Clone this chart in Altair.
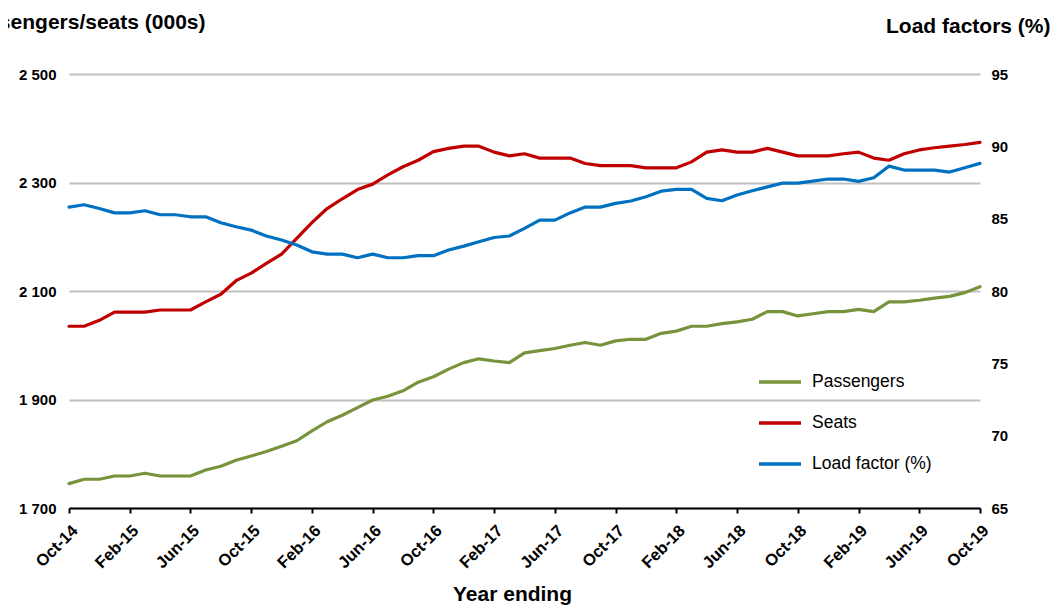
import altair as alt
import pandas as pd

months = [
    "Oct-14", "Nov-14", "Dec-14", "Jan-15", "Feb-15", "Mar-15", "Apr-15", "May-15", "Jun-15",
    "Jul-15", "Aug-15", "Sep-15", "Oct-15", "Nov-15", "Dec-15", "Jan-16", "Feb-16", "Mar-16",
    "Apr-16", "May-16", "Jun-16", "Jul-16", "Aug-16", "Sep-16", "Oct-16", "Nov-16", "Dec-16",
    "Jan-17", "Feb-17", "Mar-17", "Apr-17", "May-17", "Jun-17", "Jul-17", "Aug-17", "Sep-17",
    "Oct-17", "Nov-17", "Dec-17", "Jan-18", "Feb-18", "Mar-18", "Apr-18", "May-18", "Jun-18",
    "Jul-18", "Aug-18", "Sep-18", "Oct-18", "Nov-18", "Dec-18", "Jan-19", "Feb-19", "Mar-19",
    "Apr-19", "May-19", "Jun-19", "Jul-19", "Aug-19", "Sep-19", "Oct-19",
]

passengers = [
    1745, 1753, 1753, 1759, 1759, 1764, 1759, 1759, 1759,
    1770, 1777, 1788, 1796, 1804, 1814, 1824, 1842, 1859,
    1871, 1885, 1899, 1906, 1916, 1932, 1942, 1956, 1968,
    1975, 1971, 1968, 1986, 1990, 1994, 2000, 2005, 2000,
    2008, 2011, 2011, 2022, 2026, 2035, 2035, 2040, 2043,
    2048, 2062, 2062, 2054, 2058, 2062, 2062, 2066, 2062,
    2080, 2080, 2083, 2087, 2090, 2097, 2108,
]

seats = [
    2035, 2035, 2046, 2061, 2061, 2061, 2065, 2065, 2065,
    2080, 2094, 2119, 2133, 2151, 2168, 2197, 2226, 2252,
    2270, 2287, 2297, 2314, 2329, 2341, 2357, 2363, 2367,
    2367, 2356, 2349, 2353, 2345, 2345, 2345, 2335, 2331,
    2331, 2331, 2327, 2327, 2327, 2338, 2356, 2360, 2356,
    2356, 2363, 2356, 2349, 2349, 2349, 2353, 2356, 2345,
    2341, 2353, 2360, 2364, 2367, 2370, 2374,
]

load_factor = [
    85.8, 85.96, 85.7, 85.4, 85.4, 85.55, 85.27, 85.27, 85.13,
    85.13, 84.72, 84.44, 84.21, 83.8, 83.52, 83.18, 82.71, 82.55,
    82.55, 82.3, 82.55, 82.3, 82.3, 82.44, 82.44, 82.83, 83.1,
    83.4, 83.7, 83.8, 84.33, 84.9, 84.9, 85.4, 85.8, 85.8,
    86.06, 86.22, 86.52, 86.9, 87.02, 87.02, 86.4, 86.24, 86.63,
    86.93, 87.2, 87.46, 87.46, 87.6, 87.74, 87.74, 87.58, 87.83,
    88.63, 88.36, 88.36, 88.36, 88.22, 88.52, 88.82,
]

x_ticks = ["Oct-14", "Feb-15", "Jun-15", "Oct-15", "Feb-16", "Jun-16", "Oct-16", "Feb-17",
           "Jun-17", "Oct-17", "Feb-18", "Jun-18", "Oct-18", "Feb-19", "Jun-19", "Oct-19"]
left_ticks = [1700, 1900, 2100, 2300, 2500]
right_ticks = [65, 70, 75, 80, 85, 90, 95]

series_names = ["Passengers", "Seats", "Load factor (%)"]
series_colors = ["#77933C", "#C00000", "#0070C0"]

rows = []
for m, p, s, lf in zip(months, passengers, seats, load_factor):
    rows.append({"month": m, "series": "Passengers", "value": p})
    rows.append({"month": m, "series": "Seats", "value": s})
    rows.append({"month": m, "series": "Load factor (%)", "value": lf})
df = pd.DataFrame(rows)

FONT = "Liberation Sans"

x_enc = alt.X(
    "month:O",
    sort=months,
    scale=alt.Scale(type="point", padding=0),
    axis=alt.Axis(
        values=x_ticks,
        labelAngle=-45,
        labelFontSize=16.5,
        labelFontWeight="bold",
        labelColor="#000000",
        labelPadding=9,
        tickSize=5,
        tickWidth=2,
        tickColor="#000000",
        domainColor="#000000",
        domainWidth=2,
        grid=False,
        title="Year ending",
        titleFontSize=21,
        titleFontWeight="bold",
        titleColor="#000000",
        titleAnchor="start",
        titleAlign="center",
        titleBaseline="alphabetic",
        titleX=443,
        titleY=92,
    ),
)

color_enc = alt.Color(
    "series:N",
    scale=alt.Scale(domain=series_names, range=series_colors),
    legend=alt.Legend(
        title=None,
        orient="none",
        legendX=688,
        legendY=285,
        symbolType="stroke",
        symbolSize=1764,
        symbolStrokeWidth=3.5,
        labelFontSize=17.5,
        labelColor="#000000",
        labelOffset=9,
        rowPadding=9,
        padding=0,
    ),
)

left = (
    alt.Chart(df)
    .transform_filter(alt.FieldOneOfPredicate(field="series", oneOf=["Passengers", "Seats"]))
    .mark_line(strokeWidth=3.2, strokeJoin="round", strokeCap="round")
    .encode(
        x=x_enc,
        y=alt.Y(
            "value:Q",
            scale=alt.Scale(domain=[1700, 2500], nice=False, zero=False),
            axis=alt.Axis(
                values=left_ticks,
                labelExpr="replace(format(datum.value, ','), ',', ' ')",
                labelFontSize=15,
                labelFontWeight="bold",
                labelColor="#000000",
                labelPadding=13,
                ticks=False,
                domain=False,
                grid=True,
                gridColor="#C0C0C0",
                gridWidth=1.8,
                title="Passengers/seats (000s)",
                titleAngle=0,
                titleFontSize=21,
                titleFontWeight="bold",
                titleColor="#000000",
                titleAlign="right",
                titleBaseline="alphabetic",
                titleX=136,
                titleY=-46,
            ),
        ),
        color=color_enc,
        detail="series:N",
    )
)

right = (
    alt.Chart(df)
    .transform_filter(alt.FieldEqualPredicate(field="series", equal="Load factor (%)"))
    .mark_line(strokeWidth=3.2, strokeJoin="round", strokeCap="round")
    .encode(
        x=x_enc,
        y=alt.Y(
            "value:Q",
            scale=alt.Scale(domain=[65, 95], nice=False, zero=False),
            axis=alt.Axis(
                orient="right",
                values=right_ticks,
                labelFontSize=15,
                labelFontWeight="bold",
                labelColor="#000000",
                labelPadding=11,
                ticks=False,
                domain=False,
                grid=False,
                title="Load factors (%)",
                titleAngle=0,
                titleFontSize=21,
                titleFontWeight="bold",
                titleColor="#000000",
                titleAlign="right",
                titleBaseline="alphabetic",
                titleX=70,
                titleY=-42,
            ),
        ),
        color=color_enc,
    )
)

chart = (
    alt.layer(left, right)
    .resolve_scale(y="independent")
    .properties(
        width=911,
        height=434,
        padding={"left": 61, "top": 66, "right": 71, "bottom": 97},
        autosize=alt.AutoSizeParams(type="none"),
    )
    .configure(font=FONT)
    .configure_view(stroke=None)
)

chart.save("out.html", embed_options={"renderer": "svg", "actions": False})
